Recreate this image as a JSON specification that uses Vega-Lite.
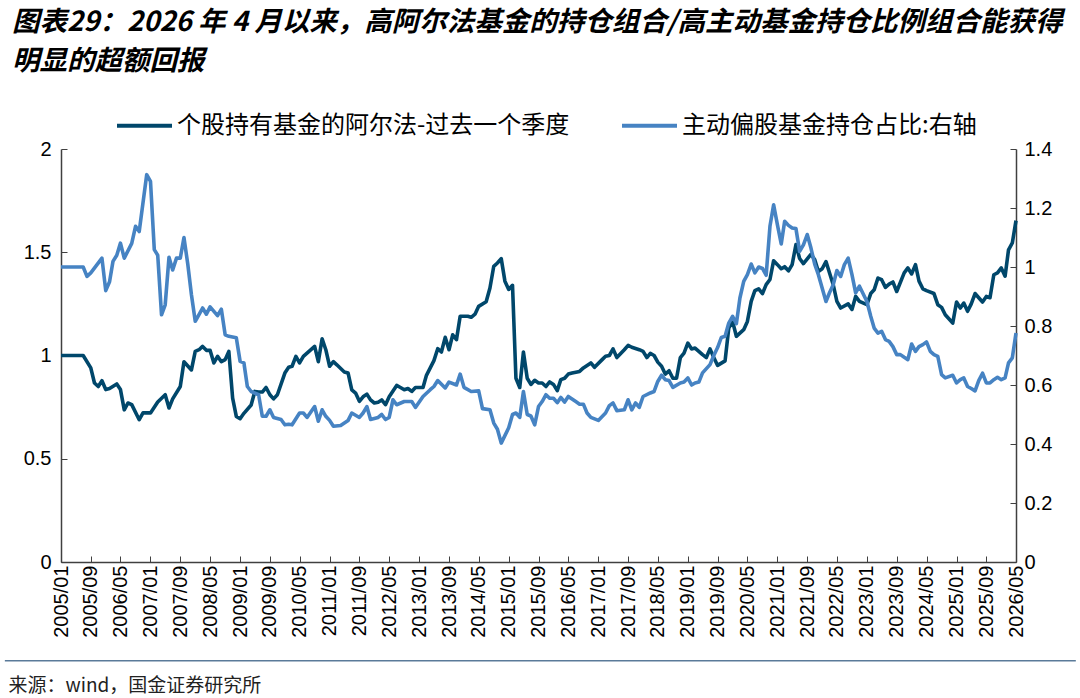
{
  "$schema": "https://vega.github.io/schema/vega-lite/v6.json",
  "width": 955,
  "height": 413,
  "autosize": "none",
  "padding": {"left": 61, "top": 149, "right": 64, "bottom": 136},
  "background": "white",
  "title": {
    "text": ["图表29：2026 年 4 月以来，高阿尔法基金的持仓组合/高主动基金持仓比例组合能获得", "明显的超额回报"],
    "anchor": "start",
    "frame": "group",
    "dx": -49,
    "offset": 21,
    "font": "Noto Sans CJK SC",
    "fontSize": 27.5,
    "fontWeight": "bold",
    "fontStyle": "italic",
    "color": "#000000",
    "lineHeight": 39
  },
  "datasets": {
    "alpha": [
      {"date": "2005-01-01", "v": 1.0}, {"date": "2005-07-01", "v": 1.0}, {"date": "2005-09-01", "v": 0.94},
      {"date": "2005-10-01", "v": 0.867}, {"date": "2005-11-01", "v": 0.85}, {"date": "2005-12-01", "v": 0.878},
      {"date": "2006-01-01", "v": 0.835}, {"date": "2006-02-01", "v": 0.84}, {"date": "2006-04-01", "v": 0.862},
      {"date": "2006-05-01", "v": 0.835}, {"date": "2006-06-01", "v": 0.737}, {"date": "2006-07-01", "v": 0.77},
      {"date": "2006-08-01", "v": 0.762}, {"date": "2006-10-01", "v": 0.689}, {"date": "2006-11-01", "v": 0.722},
      {"date": "2007-01-01", "v": 0.722}, {"date": "2007-03-01", "v": 0.775}, {"date": "2007-05-01", "v": 0.81},
      {"date": "2007-06-01", "v": 0.746}, {"date": "2007-07-01", "v": 0.79}, {"date": "2007-09-01", "v": 0.85},
      {"date": "2007-10-01", "v": 0.97}, {"date": "2007-12-01", "v": 0.93}, {"date": "2008-01-01", "v": 1.02},
      {"date": "2008-02-01", "v": 1.028}, {"date": "2008-03-01", "v": 1.044}, {"date": "2008-04-01", "v": 1.025},
      {"date": "2008-05-01", "v": 1.025}, {"date": "2008-06-01", "v": 0.964}, {"date": "2008-07-01", "v": 0.996},
      {"date": "2008-08-01", "v": 0.97}, {"date": "2008-09-01", "v": 0.98}, {"date": "2008-10-01", "v": 1.02},
      {"date": "2008-11-01", "v": 0.794}, {"date": "2008-12-01", "v": 0.705}, {"date": "2009-01-01", "v": 0.694},
      {"date": "2009-02-01", "v": 0.72}, {"date": "2009-04-01", "v": 0.76}, {"date": "2009-05-01", "v": 0.826},
      {"date": "2009-06-01", "v": 0.823}, {"date": "2009-07-01", "v": 0.823}, {"date": "2009-08-01", "v": 0.845},
      {"date": "2009-09-01", "v": 0.81}, {"date": "2009-10-01", "v": 0.79}, {"date": "2009-11-01", "v": 0.81},
      {"date": "2010-01-01", "v": 0.915}, {"date": "2010-02-01", "v": 0.943}, {"date": "2010-03-01", "v": 0.948},
      {"date": "2010-04-01", "v": 0.996}, {"date": "2010-05-01", "v": 0.964}, {"date": "2010-06-01", "v": 0.996},
      {"date": "2010-09-01", "v": 1.044}, {"date": "2010-10-01", "v": 0.97}, {"date": "2010-11-01", "v": 1.081},
      {"date": "2010-12-01", "v": 1.028}, {"date": "2011-01-01", "v": 0.948}, {"date": "2011-02-01", "v": 0.97},
      {"date": "2011-03-01", "v": 0.955}, {"date": "2011-05-01", "v": 0.92}, {"date": "2011-06-01", "v": 0.915},
      {"date": "2011-07-01", "v": 0.834}, {"date": "2011-08-01", "v": 0.818}, {"date": "2011-09-01", "v": 0.778},
      {"date": "2011-10-01", "v": 0.8}, {"date": "2011-11-01", "v": 0.813}, {"date": "2011-12-01", "v": 0.785},
      {"date": "2012-01-01", "v": 0.77}, {"date": "2012-02-01", "v": 0.774}, {"date": "2012-03-01", "v": 0.785},
      {"date": "2012-04-01", "v": 0.762}, {"date": "2012-05-01", "v": 0.8}, {"date": "2012-07-01", "v": 0.855},
      {"date": "2012-08-01", "v": 0.845}, {"date": "2012-09-01", "v": 0.834}, {"date": "2012-10-01", "v": 0.84},
      {"date": "2012-11-01", "v": 0.826}, {"date": "2012-12-01", "v": 0.845}, {"date": "2013-02-01", "v": 0.845},
      {"date": "2013-03-01", "v": 0.904}, {"date": "2013-04-01", "v": 0.94}, {"date": "2013-05-01", "v": 0.975},
      {"date": "2013-06-01", "v": 1.033}, {"date": "2013-07-01", "v": 1.017}, {"date": "2013-08-01", "v": 1.088},
      {"date": "2013-09-01", "v": 1.028}, {"date": "2013-10-01", "v": 1.1}, {"date": "2013-11-01", "v": 1.077},
      {"date": "2013-12-01", "v": 1.19}, {"date": "2014-02-01", "v": 1.19}, {"date": "2014-03-01", "v": 1.185},
      {"date": "2014-04-01", "v": 1.2}, {"date": "2014-05-01", "v": 1.238}, {"date": "2014-07-01", "v": 1.26},
      {"date": "2014-08-01", "v": 1.327}, {"date": "2014-09-01", "v": 1.432}, {"date": "2014-10-01", "v": 1.448},
      {"date": "2014-11-01", "v": 1.469}, {"date": "2014-12-01", "v": 1.36}, {"date": "2015-01-01", "v": 1.32},
      {"date": "2015-02-01", "v": 1.34}, {"date": "2015-03-01", "v": 0.89}, {"date": "2015-04-01", "v": 0.845},
      {"date": "2015-05-01", "v": 1.017}, {"date": "2015-06-01", "v": 0.89}, {"date": "2015-07-01", "v": 0.86},
      {"date": "2015-08-01", "v": 0.88}, {"date": "2015-09-01", "v": 0.867}, {"date": "2015-10-01", "v": 0.867},
      {"date": "2015-11-01", "v": 0.85}, {"date": "2015-12-01", "v": 0.872}, {"date": "2016-01-01", "v": 0.86},
      {"date": "2016-02-01", "v": 0.83}, {"date": "2016-03-01", "v": 0.883}, {"date": "2016-04-01", "v": 0.89},
      {"date": "2016-05-01", "v": 0.91}, {"date": "2016-06-01", "v": 0.915}, {"date": "2016-08-01", "v": 0.923},
      {"date": "2016-09-01", "v": 0.94}, {"date": "2016-11-01", "v": 0.964}, {"date": "2016-12-01", "v": 0.943},
      {"date": "2017-02-01", "v": 0.98}, {"date": "2017-03-01", "v": 0.996}, {"date": "2017-04-01", "v": 1.0},
      {"date": "2017-05-01", "v": 1.032}, {"date": "2017-06-01", "v": 0.99}, {"date": "2017-08-01", "v": 1.028},
      {"date": "2017-09-01", "v": 1.049}, {"date": "2017-10-01", "v": 1.04}, {"date": "2017-12-01", "v": 1.028},
      {"date": "2018-01-01", "v": 1.02}, {"date": "2018-02-01", "v": 0.99}, {"date": "2018-03-01", "v": 1.01},
      {"date": "2018-04-01", "v": 1.0}, {"date": "2018-05-01", "v": 0.968}, {"date": "2018-06-01", "v": 0.948},
      {"date": "2018-07-01", "v": 0.91}, {"date": "2018-08-01", "v": 0.926}, {"date": "2018-09-01", "v": 0.89},
      {"date": "2018-10-01", "v": 0.89}, {"date": "2018-11-01", "v": 0.99}, {"date": "2018-12-01", "v": 1.012},
      {"date": "2019-01-01", "v": 1.06}, {"date": "2019-02-01", "v": 1.032}, {"date": "2019-03-01", "v": 1.036},
      {"date": "2019-05-01", "v": 1.004}, {"date": "2019-06-01", "v": 0.99}, {"date": "2019-07-01", "v": 1.032},
      {"date": "2019-08-01", "v": 0.99}, {"date": "2019-09-01", "v": 0.952}, {"date": "2019-11-01", "v": 0.974},
      {"date": "2019-12-01", "v": 1.133}, {"date": "2020-01-01", "v": 1.165}, {"date": "2020-02-01", "v": 1.093},
      {"date": "2020-04-01", "v": 1.125}, {"date": "2020-05-01", "v": 1.165}, {"date": "2020-06-01", "v": 1.262},
      {"date": "2020-07-01", "v": 1.314}, {"date": "2020-08-01", "v": 1.323}, {"date": "2020-09-01", "v": 1.3},
      {"date": "2020-10-01", "v": 1.343}, {"date": "2020-11-01", "v": 1.368}, {"date": "2020-12-01", "v": 1.459},
      {"date": "2021-01-01", "v": 1.44}, {"date": "2021-02-01", "v": 1.42}, {"date": "2021-03-01", "v": 1.43},
      {"date": "2021-04-01", "v": 1.41}, {"date": "2021-05-01", "v": 1.44}, {"date": "2021-06-01", "v": 1.537},
      {"date": "2021-07-01", "v": 1.47}, {"date": "2021-08-01", "v": 1.445}, {"date": "2021-10-01", "v": 1.49},
      {"date": "2021-11-01", "v": 1.465}, {"date": "2021-12-01", "v": 1.407}, {"date": "2022-01-01", "v": 1.42},
      {"date": "2022-02-01", "v": 1.455}, {"date": "2022-04-01", "v": 1.343}, {"date": "2022-05-01", "v": 1.262},
      {"date": "2022-06-01", "v": 1.23}, {"date": "2022-08-01", "v": 1.25}, {"date": "2022-09-01", "v": 1.223},
      {"date": "2022-10-01", "v": 1.286}, {"date": "2022-11-01", "v": 1.262}, {"date": "2023-01-01", "v": 1.246},
      {"date": "2023-02-01", "v": 1.3}, {"date": "2023-03-01", "v": 1.318}, {"date": "2023-04-01", "v": 1.375},
      {"date": "2023-05-01", "v": 1.367}, {"date": "2023-06-01", "v": 1.33}, {"date": "2023-07-01", "v": 1.346},
      {"date": "2023-08-01", "v": 1.356}, {"date": "2023-09-01", "v": 1.31}, {"date": "2023-11-01", "v": 1.4},
      {"date": "2023-12-01", "v": 1.424}, {"date": "2024-01-01", "v": 1.395}, {"date": "2024-02-01", "v": 1.44},
      {"date": "2024-03-01", "v": 1.36}, {"date": "2024-04-01", "v": 1.323}, {"date": "2024-05-01", "v": 1.314},
      {"date": "2024-07-01", "v": 1.3}, {"date": "2024-08-01", "v": 1.246}, {"date": "2024-09-01", "v": 1.233},
      {"date": "2024-10-01", "v": 1.197}, {"date": "2024-12-01", "v": 1.157}, {"date": "2025-01-01", "v": 1.259},
      {"date": "2025-02-01", "v": 1.23}, {"date": "2025-03-01", "v": 1.254}, {"date": "2025-04-01", "v": 1.214},
      {"date": "2025-05-01", "v": 1.25}, {"date": "2025-06-01", "v": 1.3}, {"date": "2025-07-01", "v": 1.28},
      {"date": "2025-08-01", "v": 1.259}, {"date": "2025-09-01", "v": 1.286}, {"date": "2025-10-01", "v": 1.28},
      {"date": "2025-11-01", "v": 1.391}, {"date": "2025-12-01", "v": 1.4}, {"date": "2026-01-01", "v": 1.424},
      {"date": "2026-02-01", "v": 1.384}, {"date": "2026-03-01", "v": 1.512}, {"date": "2026-04-01", "v": 1.545},
      {"date": "2026-05-01", "v": 1.653}
    ],
    "share": [
      {"date": "2005-01-01", "v": 1.0}, {"date": "2005-07-01", "v": 1.0}, {"date": "2005-08-01", "v": 0.968},
      {"date": "2005-09-01", "v": 0.98}, {"date": "2005-12-01", "v": 1.03}, {"date": "2006-01-01", "v": 0.92},
      {"date": "2006-02-01", "v": 0.95}, {"date": "2006-03-01", "v": 1.019}, {"date": "2006-04-01", "v": 1.04},
      {"date": "2006-05-01", "v": 1.081}, {"date": "2006-06-01", "v": 1.03}, {"date": "2006-08-01", "v": 1.08},
      {"date": "2006-09-01", "v": 1.138}, {"date": "2006-10-01", "v": 1.12}, {"date": "2006-12-01", "v": 1.313},
      {"date": "2007-01-01", "v": 1.29}, {"date": "2007-02-01", "v": 1.059}, {"date": "2007-03-01", "v": 1.04},
      {"date": "2007-04-01", "v": 0.838}, {"date": "2007-05-01", "v": 0.872}, {"date": "2007-06-01", "v": 1.033},
      {"date": "2007-07-01", "v": 0.99}, {"date": "2007-08-01", "v": 1.03}, {"date": "2007-09-01", "v": 1.03},
      {"date": "2007-10-01", "v": 1.1}, {"date": "2007-11-01", "v": 1.01}, {"date": "2007-12-01", "v": 0.906},
      {"date": "2008-01-01", "v": 0.816}, {"date": "2008-03-01", "v": 0.861}, {"date": "2008-04-01", "v": 0.84},
      {"date": "2008-05-01", "v": 0.865}, {"date": "2008-07-01", "v": 0.835}, {"date": "2008-08-01", "v": 0.857},
      {"date": "2008-09-01", "v": 0.77}, {"date": "2008-10-01", "v": 0.765}, {"date": "2008-12-01", "v": 0.76},
      {"date": "2009-01-01", "v": 0.68}, {"date": "2009-02-01", "v": 0.675}, {"date": "2009-03-01", "v": 0.595},
      {"date": "2009-04-01", "v": 0.578}, {"date": "2009-06-01", "v": 0.567}, {"date": "2009-07-01", "v": 0.494},
      {"date": "2009-08-01", "v": 0.494}, {"date": "2009-09-01", "v": 0.516}, {"date": "2009-10-01", "v": 0.49},
      {"date": "2009-12-01", "v": 0.483}, {"date": "2010-01-01", "v": 0.465}, {"date": "2010-02-01", "v": 0.467},
      {"date": "2010-03-01", "v": 0.465}, {"date": "2010-05-01", "v": 0.505}, {"date": "2010-06-01", "v": 0.505},
      {"date": "2010-07-01", "v": 0.49}, {"date": "2010-09-01", "v": 0.527}, {"date": "2010-10-01", "v": 0.477},
      {"date": "2010-11-01", "v": 0.516}, {"date": "2010-12-01", "v": 0.494}, {"date": "2011-01-01", "v": 0.48},
      {"date": "2011-02-01", "v": 0.46}, {"date": "2011-04-01", "v": 0.463}, {"date": "2011-06-01", "v": 0.48},
      {"date": "2011-07-01", "v": 0.505}, {"date": "2011-09-01", "v": 0.49}, {"date": "2011-10-01", "v": 0.505},
      {"date": "2011-11-01", "v": 0.527}, {"date": "2011-12-01", "v": 0.483}, {"date": "2012-02-01", "v": 0.49},
      {"date": "2012-03-01", "v": 0.5}, {"date": "2012-04-01", "v": 0.483}, {"date": "2012-05-01", "v": 0.49},
      {"date": "2012-06-01", "v": 0.55}, {"date": "2012-07-01", "v": 0.533}, {"date": "2012-09-01", "v": 0.544},
      {"date": "2012-11-01", "v": 0.544}, {"date": "2012-12-01", "v": 0.524}, {"date": "2013-02-01", "v": 0.561},
      {"date": "2013-04-01", "v": 0.584}, {"date": "2013-05-01", "v": 0.595}, {"date": "2013-06-01", "v": 0.615},
      {"date": "2013-08-01", "v": 0.59}, {"date": "2013-09-01", "v": 0.61}, {"date": "2013-11-01", "v": 0.6},
      {"date": "2013-12-01", "v": 0.637}, {"date": "2014-01-01", "v": 0.592}, {"date": "2014-03-01", "v": 0.578},
      {"date": "2014-05-01", "v": 0.58}, {"date": "2014-06-01", "v": 0.52}, {"date": "2014-08-01", "v": 0.516},
      {"date": "2014-09-01", "v": 0.471}, {"date": "2014-10-01", "v": 0.45}, {"date": "2014-11-01", "v": 0.403},
      {"date": "2015-01-01", "v": 0.455}, {"date": "2015-02-01", "v": 0.5}, {"date": "2015-03-01", "v": 0.505},
      {"date": "2015-04-01", "v": 0.49}, {"date": "2015-05-01", "v": 0.578}, {"date": "2015-06-01", "v": 0.5},
      {"date": "2015-07-01", "v": 0.495}, {"date": "2015-08-01", "v": 0.465}, {"date": "2015-09-01", "v": 0.527},
      {"date": "2015-10-01", "v": 0.544}, {"date": "2015-11-01", "v": 0.567}, {"date": "2015-12-01", "v": 0.555},
      {"date": "2016-01-01", "v": 0.555}, {"date": "2016-02-01", "v": 0.54}, {"date": "2016-03-01", "v": 0.558},
      {"date": "2016-04-01", "v": 0.542}, {"date": "2016-05-01", "v": 0.561}, {"date": "2016-07-01", "v": 0.544},
      {"date": "2016-08-01", "v": 0.535}, {"date": "2016-09-01", "v": 0.535}, {"date": "2016-10-01", "v": 0.505},
      {"date": "2016-11-01", "v": 0.49}, {"date": "2017-01-01", "v": 0.48}, {"date": "2017-03-01", "v": 0.505},
      {"date": "2017-04-01", "v": 0.53}, {"date": "2017-05-01", "v": 0.539}, {"date": "2017-06-01", "v": 0.513},
      {"date": "2017-08-01", "v": 0.516}, {"date": "2017-09-01", "v": 0.55}, {"date": "2017-10-01", "v": 0.516},
      {"date": "2017-11-01", "v": 0.539}, {"date": "2017-12-01", "v": 0.524}, {"date": "2018-01-01", "v": 0.561},
      {"date": "2018-03-01", "v": 0.573}, {"date": "2018-04-01", "v": 0.578}, {"date": "2018-05-01", "v": 0.612},
      {"date": "2018-06-01", "v": 0.633}, {"date": "2018-07-01", "v": 0.618}, {"date": "2018-08-01", "v": 0.615},
      {"date": "2018-09-01", "v": 0.592}, {"date": "2018-11-01", "v": 0.607}, {"date": "2018-12-01", "v": 0.61},
      {"date": "2019-01-01", "v": 0.624}, {"date": "2019-02-01", "v": 0.6}, {"date": "2019-03-01", "v": 0.607},
      {"date": "2019-04-01", "v": 0.61}, {"date": "2019-05-01", "v": 0.641}, {"date": "2019-07-01", "v": 0.669},
      {"date": "2019-08-01", "v": 0.7}, {"date": "2019-09-01", "v": 0.727}, {"date": "2019-10-01", "v": 0.761},
      {"date": "2019-11-01", "v": 0.765}, {"date": "2019-12-01", "v": 0.81}, {"date": "2020-01-01", "v": 0.833},
      {"date": "2020-02-01", "v": 0.808}, {"date": "2020-03-01", "v": 0.895}, {"date": "2020-04-01", "v": 0.951},
      {"date": "2020-05-01", "v": 0.974}, {"date": "2020-06-01", "v": 1.01}, {"date": "2020-07-01", "v": 0.98},
      {"date": "2020-08-01", "v": 1.0}, {"date": "2020-09-01", "v": 0.995}, {"date": "2020-10-01", "v": 0.972},
      {"date": "2020-11-01", "v": 1.138}, {"date": "2020-12-01", "v": 1.211}, {"date": "2021-01-01", "v": 1.143},
      {"date": "2021-02-01", "v": 1.078}, {"date": "2021-03-01", "v": 1.155}, {"date": "2021-04-01", "v": 1.141},
      {"date": "2021-05-01", "v": 1.132}, {"date": "2021-06-01", "v": 1.13}, {"date": "2021-07-01", "v": 1.053},
      {"date": "2021-08-01", "v": 1.075}, {"date": "2021-09-01", "v": 1.11}, {"date": "2021-10-01", "v": 1.065},
      {"date": "2021-11-01", "v": 1.01}, {"date": "2021-12-01", "v": 0.974}, {"date": "2022-02-01", "v": 0.883},
      {"date": "2022-03-01", "v": 0.912}, {"date": "2022-04-01", "v": 0.94}, {"date": "2022-05-01", "v": 0.988},
      {"date": "2022-06-01", "v": 0.968}, {"date": "2022-07-01", "v": 1.008}, {"date": "2022-08-01", "v": 1.03},
      {"date": "2022-09-01", "v": 0.974}, {"date": "2022-10-01", "v": 0.912}, {"date": "2022-11-01", "v": 0.935},
      {"date": "2023-01-01", "v": 0.883}, {"date": "2023-02-01", "v": 0.833}, {"date": "2023-03-01", "v": 0.793},
      {"date": "2023-04-01", "v": 0.776}, {"date": "2023-05-01", "v": 0.782}, {"date": "2023-06-01", "v": 0.754},
      {"date": "2023-07-01", "v": 0.748}, {"date": "2023-08-01", "v": 0.73}, {"date": "2023-09-01", "v": 0.703},
      {"date": "2023-10-01", "v": 0.703}, {"date": "2023-11-01", "v": 0.694}, {"date": "2023-12-01", "v": 0.686},
      {"date": "2024-01-01", "v": 0.739}, {"date": "2024-02-01", "v": 0.714}, {"date": "2024-03-01", "v": 0.73},
      {"date": "2024-04-01", "v": 0.737}, {"date": "2024-05-01", "v": 0.746}, {"date": "2024-06-01", "v": 0.714},
      {"date": "2024-07-01", "v": 0.703}, {"date": "2024-08-01", "v": 0.697}, {"date": "2024-09-01", "v": 0.635},
      {"date": "2024-10-01", "v": 0.624}, {"date": "2024-12-01", "v": 0.633}, {"date": "2025-01-01", "v": 0.607},
      {"date": "2025-02-01", "v": 0.618}, {"date": "2025-03-01", "v": 0.624}, {"date": "2025-04-01", "v": 0.595},
      {"date": "2025-05-01", "v": 0.588}, {"date": "2025-06-01", "v": 0.58}, {"date": "2025-07-01", "v": 0.615},
      {"date": "2025-08-01", "v": 0.64}, {"date": "2025-09-01", "v": 0.607}, {"date": "2025-10-01", "v": 0.607},
      {"date": "2025-11-01", "v": 0.618}, {"date": "2025-12-01", "v": 0.626}, {"date": "2026-01-01", "v": 0.618},
      {"date": "2026-02-01", "v": 0.624}, {"date": "2026-03-01", "v": 0.675}, {"date": "2026-04-01", "v": 0.692},
      {"date": "2026-05-01", "v": 0.776}
    ],
    "separator": [
      {"start": "2003-10-01", "end": "2027-09-01", "level": -0.478}
    ]
  },
  "encoding": {
    "x": {
      "field": "date",
      "type": "temporal",
      "scale": {"domain": ["2005-01-01", "2026-05-01"]},
      "axis": {
        "values": ["2005-01-01", "2005-09-01", "2006-05-01", "2007-01-01", "2007-09-01", "2008-05-01", "2009-01-01", "2009-09-01", "2010-05-01", "2011-01-01", "2011-09-01", "2012-05-01", "2013-01-01", "2013-09-01", "2014-05-01", "2015-01-01", "2015-09-01", "2016-05-01", "2017-01-01", "2017-09-01", "2018-05-01", "2019-01-01", "2019-09-01", "2020-05-01", "2021-01-01", "2021-09-01", "2022-05-01", "2023-01-01", "2023-09-01", "2024-05-01", "2025-01-01", "2025-09-01", "2026-05-01"],
        "format": "%Y/%m",
        "labelAngle": -90,
        "labelFont": "Liberation Sans",
        "labelFontSize": 20,
        "labelColor": "#000000",
        "labelPadding": 9,
        "labelOverlap": false,
        "labelFlush": false,
        "labelBound": false,
        "tickSize": -6,
        "tickColor": "#404040",
        "domainColor": "#404040",
        "domainWidth": 1.5,
        "grid": false,
        "title": "来源：wind，国金证券研究所",
        "titleAnchor": "start",
        "titleAlign": "left",
        "titleX": -53,
        "titleY": 123,
        "titleBaseline": "middle",
        "titleFont": "Noto Sans CJK SC",
        "titleFontSize": 19,
        "titleFontWeight": "normal",
        "titleColor": "#222222"
      }
    }
  },
  "layer": [
    {
      "data": {"name": "alpha"},
      "mark": {"type": "line", "strokeWidth": 3.6, "strokeJoin": "round"},
      "encoding": {
        "y": {
          "field": "v",
          "type": "quantitative",
          "scale": {"domain": [0, 2], "nice": false},
          "axis": {
            "values": [0, 0.5, 1, 1.5, 2],
            "format": "~g",
            "title": null,
            "grid": false,
            "labelFont": "Liberation Sans",
            "labelFontSize": 20,
            "labelColor": "#000000",
            "labelPadding": 16,
            "tickSize": -6,
            "tickColor": "#404040",
            "domainColor": "#404040",
            "domainWidth": 1.5
          }
        },
        "color": {
          "datum": "个股持有基金的阿尔法-过去一个季度",
          "scale": {
            "domain": ["个股持有基金的阿尔法-过去一个季度", "主动偏股基金持仓占比:右轴"],
            "range": ["#00476b", "#4683c3"]
          },
          "legend": {
            "orient": "none",
            "legendX": 54,
            "legendY": -53,
            "direction": "horizontal",
            "title": null,
            "symbolType": "stroke",
            "symbolSize": 3025,
            "symbolStrokeWidth": 4,
            "labelFont": "Noto Sans CJK SC",
            "labelFontSize": 24,
            "labelColor": "#000000",
            "labelOffset": 3,
            "labelLimit": 0,
            "columnPadding": 44
          }
        }
      }
    },
    {
      "data": {"name": "share"},
      "mark": {"type": "line", "strokeWidth": 3.6, "strokeJoin": "round"},
      "encoding": {
        "y": {
          "field": "v",
          "type": "quantitative",
          "scale": {"domain": [0, 1.4], "nice": false},
          "axis": {
            "orient": "right",
            "values": [0, 0.2, 0.4, 0.6, 0.8, 1, 1.2, 1.4],
            "format": "~g",
            "title": null,
            "grid": false,
            "labelFont": "Liberation Sans",
            "labelFontSize": 20,
            "labelColor": "#000000",
            "labelPadding": 14,
            "tickSize": -6,
            "tickColor": "#404040",
            "domainColor": "#404040",
            "domainWidth": 1.5
          }
        },
        "color": {"datum": "主动偏股基金持仓占比:右轴"}
      }
    },
    {
      "data": {"name": "separator"},
      "mark": {"type": "rule", "color": "#5a7a99", "strokeWidth": 1.5, "clip": false},
      "encoding": {
        "x": {"field": "start", "type": "temporal"},
        "x2": {"field": "end"},
        "y": {"field": "level", "type": "quantitative", "scale": {"domain": [0, 2], "nice": false, "zero": false}, "axis": null}
      }
    }
  ],
  "resolve": {"scale": {"y": "independent"}},
  "config": {
    "view": {"stroke": null},
    "axisX": {"labelOverlap": false}
  }
}
